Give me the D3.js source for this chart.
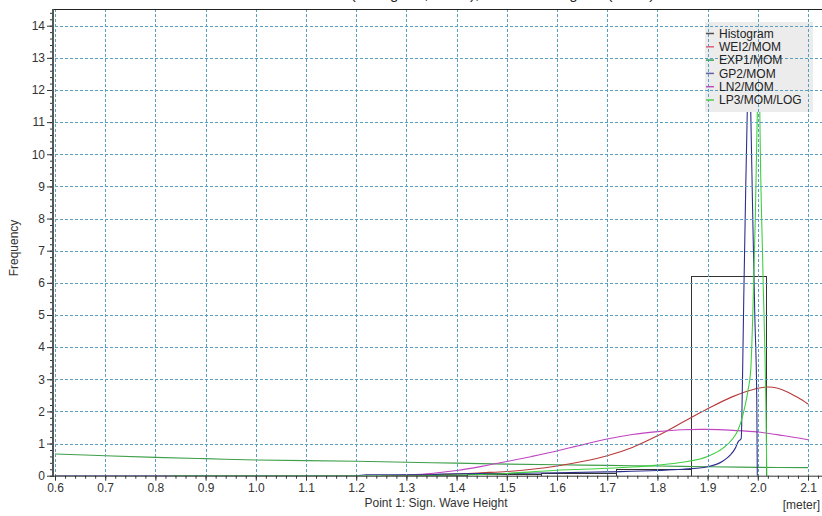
<!DOCTYPE html>
<html>
<head>
<meta charset="utf-8">
<script src="https://cdn.jsdelivr.net/npm/d3@7/dist/d3.min.js"></script>
<style>
  html, body { margin: 0; padding: 0; background: #fff; }
  svg { display: block; font-family: "Liberation Sans", Arial, sans-serif; }
</style>
</head>
<body>
<svg id="chart" width="822" height="516"></svg>
<script>
// ---- data ---------------------------------------------------------------
const xTickLabels = ["0.6","0.7","0.8","0.9","1.0","1.1","1.2","1.3","1.4","1.5","1.6","1.7","1.8","1.9","2.0","2.1"];
const yTickLabels = ["0","1","2","3","4","5","6","7","8","9","10","11","12","13","14"];

// histogram bins: left edges, right edges, frequency density
const histLeft  = [0.675, 0.824, 0.973, 1.122, 1.271, 1.420, 1.569, 1.718, 1.867];
const histRight = [0.824, 0.973, 1.122, 1.271, 1.420, 1.569, 1.718, 1.867, 2.016];
const histFreq  = [0, 0, 0, 0, 0.02, 0.04, 0.07, 0.2, 6.21];

// fitted densities [x, f(x)]
const wei2 = [[1.25,0],[1.3,0.01],[1.35,0.03],[1.4,0.05],[1.45,0.09],[1.5,0.13],[1.55,0.2],[1.6,0.3],[1.65,0.44],
  [1.7,0.62],[1.75,0.88],[1.8,1.24],[1.85,1.66],[1.9,2.08],[1.95,2.46],[2.0,2.72],[2.02,2.76],[2.04,2.72],[2.06,2.6],
  [2.08,2.43],[2.1,2.23]];
const exp1 = [[0.6,0.675],[0.7,0.62],[0.8,0.57],[0.9,0.53],[1.0,0.49],[1.1,0.47],[1.2,0.45],[1.3,0.42],[1.4,0.39],
  [1.5,0.36],[1.6,0.34],[1.7,0.32],[1.8,0.30],[1.9,0.28],[2.0,0.26],[2.1,0.25]];
const gp2 = [[0.6,0],[1.2,0],[1.22,0.03],[1.35,0.03],[1.37,0.05],[1.5,0.07],[1.6,0.09],[1.7,0.12],[1.8,0.16],[1.85,0.2],
  [1.9,0.28],[1.93,0.45],[1.945,0.64],[1.955,0.85],[1.961,1.06],[1.967,1.16],[1.969,2.5],[1.972,5.5],[1.976,9],
  [1.979,11.3],[1.981,12.8],[1.984,12.8],[1.986,11.3],[1.99,8],[1.994,5],[1.998,2.35],[1.999,0]];
const ln2 = [[1.27,0],[1.3,0.02],[1.35,0.07],[1.4,0.16],[1.45,0.29],[1.5,0.44],[1.55,0.6],[1.6,0.77],[1.65,0.96],
  [1.7,1.14],[1.75,1.28],[1.8,1.37],[1.85,1.43],[1.9,1.44],[1.95,1.41],[2.0,1.36],[2.05,1.25],[2.1,1.12]];
const lp3 = [[0.83,0],[1.3,0],[1.4,0.02],[1.5,0.07],[1.55,0.12],[1.6,0.17],[1.65,0.2],[1.7,0.23],[1.75,0.27],[1.8,0.33],
  [1.85,0.42],[1.9,0.6],[1.93,0.85],[1.95,1.15],[1.96,1.4],[1.968,1.75],[1.975,2.2],[1.981,2.7],[1.986,3.3],[1.99,5],
  [1.995,8],[1.999,11.3],[2.001,12.8],[2.003,12.8],[2.004,11.3],[2.01,6.5],[2.016,2.35],[2.018,0]];

const seriesNames  = ["Histogram","WEI2/MOM","EXP1/MOM","GP2/MOM","LN2/MOM","LP3/MOM/LOG"];
const seriesColors = ["#333333","#b83a3a","#3f9f4a","#2e2e8c","#c044c0","#3fd03f"];
const legendColors = ["#505050","#e0607a","#3fa060","#6464a8","#c050c0","#50d050"];

// ---- layout -------------------------------------------------------------
const svg = d3.select("#chart");
const plotLeft = 55, plotRight = 822, plotTop = 9, plotBottom = 475.7;
const x = d3.scaleLinear().domain([0.6, 2.1]).range([55, 808]);
const y = d3.scaleLinear().domain([0, 14]).range([475.7, 25.7]);
const xVals = xTickLabels.map(Number);
const yVals = yTickLabels.map(Number);

svg.append("defs").append("clipPath").attr("id", "plotClip")
  .append("rect").attr("x", plotLeft).attr("y", plotTop)
  .attr("width", plotRight - plotLeft).attr("height", plotBottom - plotTop);

// chart title, running off the top edge
svg.append("text").attr("x", 300).attr("y", -1)
  .attr("font-size", 15).attr("fill", "#222")
  .text("Point 1 (Histogram, Fitted), Overall Histogram (MOM)");

const plot = svg.append("g").attr("clip-path", "url(#plotClip)");

// histogram bars (outlines)
plot.append("g").selectAll("rect").data(histFreq).join("rect")
  .attr("x", (d, i) => Math.round(x(histLeft[i])) + 0.5)
  .attr("width", (d, i) => Math.round(x(histRight[i])) - Math.round(x(histLeft[i])))
  .attr("y", d => Math.round(y(d)) + 0.5)
  .attr("height", d => Math.max(0, Math.round(y(0)) - Math.round(y(d))))
  .attr("fill", "none").attr("stroke", seriesColors[0]).attr("stroke-width", 1);

// fitted curves
const smooth = d3.line().x(d => x(d[0])).y(d => y(d[1])).curve(d3.curveCatmullRom.alpha(0.5));
const sharp  = d3.line().x(d => x(d[0])).y(d => y(d[1])).curve(d3.curveMonotoneX);
const curves = [[exp1, 2, smooth], [wei2, 1, smooth], [ln2, 4, smooth], [gp2, 3, sharp], [lp3, 5, sharp]];
curves.forEach(([data, k, gen]) => {
  plot.append("path").datum(data).attr("d", gen)
    .attr("fill", "none").attr("stroke", seriesColors[k]).attr("stroke-width", 1.1);
});

// legend background
const legX = 705, legY = 22, legW = 108, legH = 90;
svg.append("rect").attr("x", legX).attr("y", legY).attr("width", legW).attr("height", legH)
  .attr("fill", "#ececec");

// grid
const grid = svg.append("g").attr("stroke", "#5a9fc0").attr("stroke-width", 1)
  .attr("stroke-dasharray", "3,2");
grid.selectAll("line.v").data(xVals).join("line").attr("class", "v")
  .attr("x1", d => Math.round(x(d)) + 0.5).attr("x2", d => Math.round(x(d)) + 0.5)
  .attr("y1", plotTop).attr("y2", plotBottom);
grid.selectAll("line.h").data(yVals.filter(v => v > 0)).join("line").attr("class", "h")
  .attr("x1", plotLeft).attr("x2", plotRight)
  .attr("y1", d => Math.round(y(d)) + 0.5).attr("y2", d => Math.round(y(d)) + 0.5);

// legend entries
const leg = svg.append("g").attr("font-size", 12).attr("fill", "#222");
seriesNames.forEach((name, i) => {
  const cy = 33.5 + i * 13.3;
  leg.append("line").attr("x1", 706).attr("x2", 714).attr("y1", cy).attr("y2", cy)
    .attr("stroke", legendColors[i]).attr("stroke-width", 1.5);
  leg.append("text").attr("x", 719).attr("y", cy + 4.3).text(name);
});

// top frame line
svg.append("line").attr("x1", 53).attr("x2", 822).attr("y1", plotTop + 0.5).attr("y2", plotTop + 0.5)
  .attr("stroke", "#222");

// axes: major ticks with labels, minor ticks without
svg.append("g").attr("transform", `translate(0,${plotBottom})`)
  .call(d3.axisBottom(x).tickValues(xVals).tickFormat((d, i) => xTickLabels[i]).tickSize(5).tickPadding(3).tickSizeOuter(0));
svg.append("g").attr("transform", `translate(0,${plotBottom})`)
  .call(d3.axisBottom(x).tickValues(d3.range(0, 77).map(i => 0.6 + i * 0.02)).tickFormat("").tickSize(3).tickSizeOuter(0));
svg.append("g").attr("transform", "translate(53,0)")
  .call(d3.axisLeft(y).tickValues(yVals).tickFormat((d, i) => yTickLabels[i]).tickSize(6).tickPadding(2).tickSizeOuter(0));
svg.append("g").attr("transform", "translate(53,0)")
  .call(d3.axisLeft(y).tickValues(d3.range(0, 73).map(i => i * 0.2)).tickFormat("").tickSize(3).tickSizeOuter(0));

svg.selectAll(".domain").remove();
svg.selectAll(".tick line").attr("stroke", "#333");
svg.selectAll(".tick text").attr("font-size", 12).attr("fill", "#333")
  .attr("font-family", "'Liberation Sans', Arial, sans-serif");

svg.append("line").attr("x1", 53).attr("x2", 53).attr("y1", plotTop).attr("y2", plotBottom + 1)
  .attr("stroke", "#555").attr("stroke-width", 2);
svg.append("line").attr("x1", 52).attr("x2", 822).attr("y1", plotBottom + 0.5).attr("y2", plotBottom + 0.5)
  .attr("stroke", "#333");

// axis titles
svg.append("text").attr("transform", "translate(18,248) rotate(-90)")
  .attr("text-anchor", "middle").attr("font-size", 12).attr("fill", "#333").text("Frequency");
svg.append("text").attr("x", 436).attr("y", 507).attr("text-anchor", "middle")
  .attr("font-size", 12).attr("fill", "#333").text("Point 1: Sign. Wave Height");
svg.append("text").attr("x", 820).attr("y", 509).attr("text-anchor", "end")
  .attr("font-size", 12).attr("fill", "#333").text("[meter]");
</script>
</body>
</html>
